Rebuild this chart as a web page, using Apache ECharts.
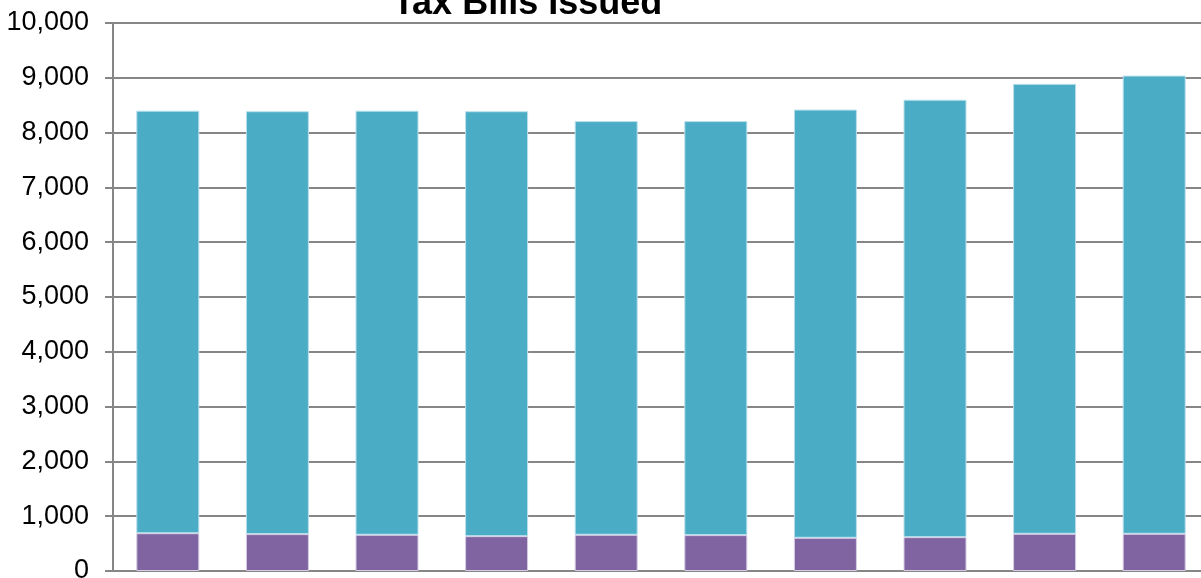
<!DOCTYPE html>
<html>
<head>
<meta charset="utf-8">
<script src="https://cdn.jsdelivr.net/npm/echarts@6/dist/echarts.min.js"></script>
<style>
html,body{margin:0;padding:0;background:#fff;}
#chart{width:1201px;height:578px;}
</style>
</head>
<body>
<div id="chart"></div>
<script>
var titleText = 'Tax Bills Issued';
var categories = ['1', '2', '3', '4', '5', '6', '7', '8', '9', '10'];
var lowerSeriesName = 'Commercial';
var upperSeriesName = 'Residential';
var lowerValues = [690, 673, 661, 636, 661, 655, 606, 618, 679, 679];
var upperValues = [7710, 7717, 7739, 7754, 7549, 7555, 7814, 7982, 8211, 8361];
var yTicks = [0, 1000, 2000, 3000, 4000, 5000, 6000, 7000, 8000, 9000, 10000];

var chart = echarts.init(document.getElementById('chart'), null, {renderer: 'canvas'});
var font = '"Liberation Sans", Arial, sans-serif';
chart.setOption({
  animation: false,
  backgroundColor: '#ffffff',
  graphic: [{
    type: 'text', x: 527.5, y: 4,
    style: {text: titleText, font: 'bold 36px ' + font, fill: '#000', textAlign: 'center', textVerticalAlign: 'middle'}
  }],
  grid: {left: 113, top: 23, width: 1096, bottom: 7, containLabel: false, outerBoundsMode: 'none'},
  xAxis: {
    type: 'category', data: categories,
    axisLine: {show: true, lineStyle: {color: '#868686', width: 2}},
    axisTick: {show: false},
    axisLabel: {show: false},
    splitLine: {show: false}
  },
  yAxis: {
    type: 'value', min: yTicks[0], max: yTicks[yTicks.length - 1], interval: 1000,
    axisLine: {show: true, lineStyle: {color: '#868686', width: 2}},
    axisTick: {show: true, inside: false, length: 8, lineStyle: {color: '#868686', width: 2}},
    axisLabel: {
      margin: 24, color: '#000', fontSize: 27, fontFamily: font,
      formatter: function (v) { return v.toLocaleString('en-US'); }
    },
    splitLine: {show: true, lineStyle: {color: '#868686', width: 2}}
  },
  series: [{
    name: lowerSeriesName, type: 'bar', stack: 'total', data: lowerValues,
    barWidth: 63,
    itemStyle: {color: '#8064A2', borderColor: '#d6cde3', borderWidth: 1}
  }, {
    name: upperSeriesName, type: 'bar', stack: 'total', data: upperValues,
    barWidth: 63,
    itemStyle: {color: '#4BACC6', borderColor: '#b8e0ec', borderWidth: 1}
  }]
});
</script>
</body>
</html>
